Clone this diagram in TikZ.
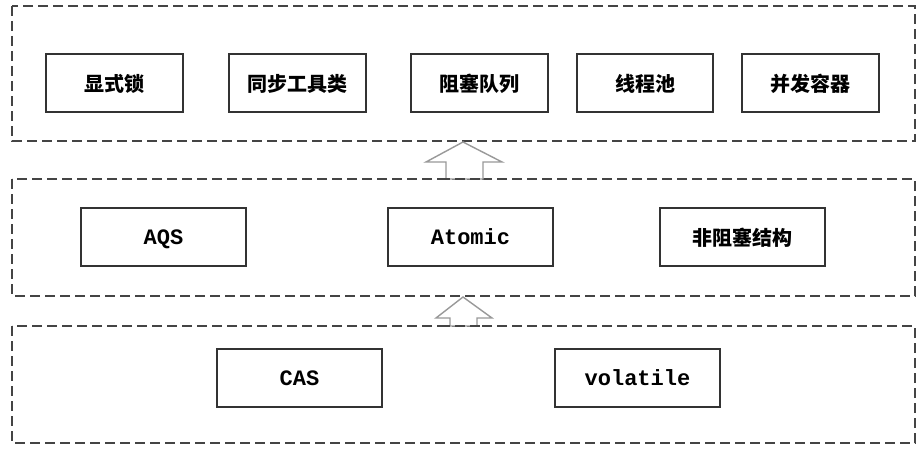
\documentclass[tikz,border=0pt]{standalone}
\usepackage{fontspec}
\setmonofont{Liberation Mono}
\newfontfamily\cjk{Noto Sans CJK SC}
\definecolor{edge}{HTML}{333333}
\definecolor{dashc}{HTML}{444444}
\definecolor{arrc}{HTML}{999999}
\begin{document}
\begin{tikzpicture}[x=1pt,y=-1pt,
  layer/.style={draw=dashc,line width=1.6pt,dash pattern=on 10pt off 5pt},
  box/.style={draw=edge,line width=1.4pt,minimum height=58pt,inner sep=0pt,
    text height=17pt,text depth=0pt,font=\cjk\bfseries\fontsize{20}{20}\selectfont},
  mbox/.style={box,text height=14pt,text depth=0pt,font=\ttfamily\bfseries\fontsize{22}{22}\selectfont},
  uparrow/.style={draw=arrc,line width=1.4pt,fill=white}]
\useasboundingbox (0,0) rectangle (924,452);
% layers
\draw[layer] (12,6) rectangle (915,141);
\draw[layer] (12,179) rectangle (915,296);
\draw[layer] (12,326) rectangle (915,443);
% top row
\node[box,minimum width=137pt] (lock) at (114.5,83) {显式锁};
\node[box,minimum width=137pt] (sync) at (297.5,83) {同步工具类};
\node[box,minimum width=137pt] (bq) at (479.5,83) {阻塞队列};
\node[box,minimum width=136pt] (pool) at (645,83) {线程池};
\node[box,minimum width=137pt] (conc) at (810.5,83) {并发容器};
% middle row
\node[mbox,minimum width=165pt] (aqs) at (163.5,237) {AQS};
\node[mbox,minimum width=165pt] (atomic) at (470.5,237) {Atomic};
\node[box,minimum width=165pt] (nb) at (742.5,237) {非阻塞结构};
% bottom row
\node[mbox,minimum width=165pt] (cas) at (299.5,378) {CAS};
\node[mbox,minimum width=165pt] (vol) at (637.5,378) {volatile};
% arrows
\coordinate (a1) at (463,142);
\draw[uparrow] (a1) -- (502,162) -- (483,162) -- (483,179) -- (446,179) -- (446,162) -- (426,162) -- cycle;
\coordinate (a2) at (463,297);
\draw[uparrow] (a2) -- (492,318) -- (477,318) -- (477,326) -- (450,326) -- (450,318) -- (436,318) -- cycle;
\draw[layer] (440,179) -- (490,179);
\draw[layer] (440,326) -- (485,326);
\end{tikzpicture}
\end{document}
